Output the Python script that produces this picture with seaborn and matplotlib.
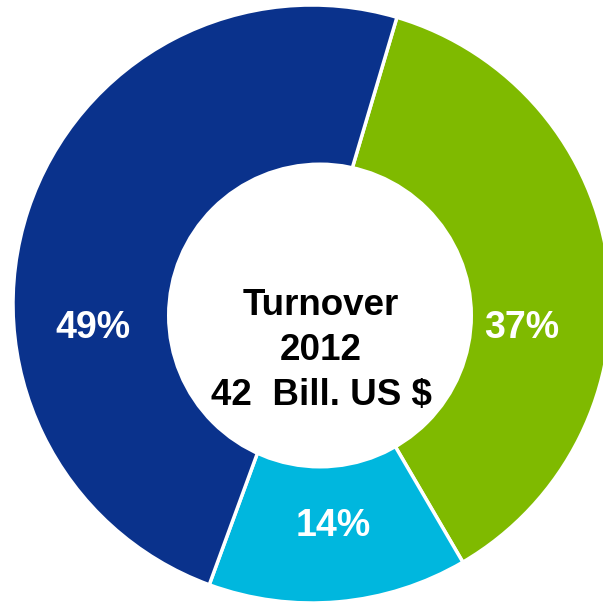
import matplotlib
matplotlib.use("Agg")
import matplotlib.pyplot as plt
import seaborn as sns
from matplotlib.patches import Circle

sns.set_theme(style="white")
plt.rcParams['font.family'] = ['Liberation Sans', 'DejaVu Sans']

segments = ["Segment A", "Segment B", "Segment C"]
shares = [37, 14, 49]
colors = ["#7FBA00", "#00B7DE", "#0A328C"]
pct_labels = ["37%", "14%", "49%"]
center_lines = ["Turnover", "2012", "42  Bill. US $"]

W, H = 603, 604
fig = plt.figure(figsize=(W / 100, H / 100), dpi=100)
ax = fig.add_axes([0, 0, 1, 1])

# pixel geometry of the reference
cx, cy, R = 312, 304, 299

def px(x, y):
    return (x - cx) / R, (cy - y) / R

ax.pie(shares, colors=colors, startangle=73.5, counterclock=False,
       radius=1.0, wedgeprops=dict(edgecolor="white", linewidth=2.5))

hx, hy = px(320, 315.5)
ax.add_patch(Circle((hx, hy), 153 / R, facecolor="white", edgecolor="none", zorder=3))

label_pos = [(522, 338), (333, 536), (93, 338)]
for lab, (x, y) in zip(pct_labels, label_pos):
    X, Y = px(x, y)
    ax.text(X, Y, lab, color="white", fontsize=27, fontweight="bold",
            ha="center", va="baseline", zorder=4)

for line, yb in zip(center_lines, [315, 360, 405]):
    X, Y = px(321, yb)
    ax.text(X, Y, line, color="black", fontsize=26.5, fontweight="bold",
            ha="center", va="baseline", zorder=4)

ax.set_xlim(-cx / R, (W - cx) / R)
ax.set_ylim(-(H - cy) / R, cy / R)
ax.set_aspect("equal")
ax.axis("off")

fig.savefig("out.png", dpi=100, facecolor="white")
